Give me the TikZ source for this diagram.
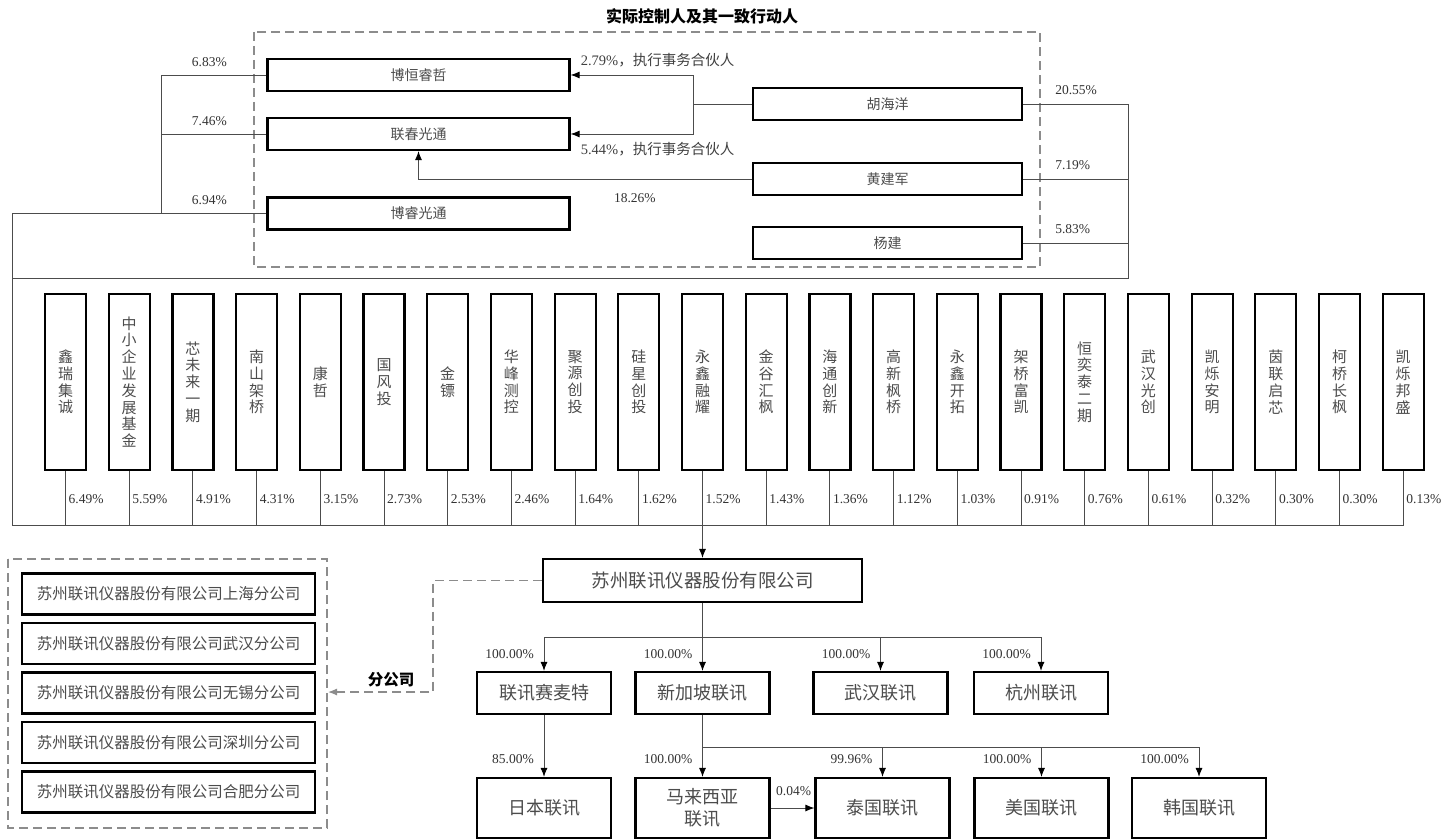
\documentclass[tikz,border=0pt]{standalone}
\usepackage{fontspec}
\setmainfont{Liberation Serif}
\newfontfamily\cjk{Noto Sans CJK SC}
\usetikzlibrary{arrows.meta,positioning}
\makeatletter
\newcommand\vchars[1]{\@tfor\vc@ch:=#1\do{\vc@ch\par}}
\makeatother

\begin{document}
\begin{tikzpicture}[x=1pt,y=-1pt,>={Latex[length=9pt,width=7pt,color=black]},
    every node/.style={inner sep=0pt},
    frame/.style={draw,line width=2.2pt,fill=white,text=black!70},
    ctrl/.style={frame,minimum width=302pt,minimum height=32pt,font=\cjk\fontsize{14}{16}\selectfont},
    person/.style={ctrl,minimum width=269pt},
    holder/.style={frame,minimum width=41pt,minimum height=176pt,text width=16pt,align=center,font=\cjk\fontsize{15}{16.8}\selectfont},
    sub/.style={frame,minimum width=134pt,minimum height=42pt,align=center,font=\cjk\fontsize{18}{22}\selectfont},
    branch/.style={frame,minimum width=293pt,minimum height=41pt,font=\cjk\fontsize{15.5}{18}\selectfont},
    link/.style={draw=black!70,line width=0.9pt},
    grp/.style={draw=black!45,line width=1.2pt,dash pattern=on 9pt off 5pt},
    pct/.style={font=\fontsize{13.5}{15}\selectfont,text=black!80},
    note/.style={font=\fontsize{14.5}{17}\selectfont,text=black!75}]
    \useasboundingbox (0,0) rectangle (1448,840);

    % actual controller group
    \node[font=\cjk\bfseries\fontsize{16}{18}\selectfont] (title) at (702,16) {实际控制人及其一致行动人};
    \draw[grp] (254,32) rectangle (1040,267);
    \node[ctrl] (hhrz) at (418.5,75) {博恒睿哲};
    \node[ctrl] (lcgt) at (418.5,134) {联春光通};
    \node[ctrl] (brgt) at (418.5,213.5) {博睿光通};
    \node[person] (hhy) at (887.5,104) {胡海洋};
    \node[person] (hjj) at (887.5,179) {黄建军};
    \node[person] (yj) at (887.5,243) {杨建};

    \coordinate (pj) at (693,104);
    \draw[link] (hhy.west) -- (pj);
    \draw[link,->] (pj) |- (hhrz.east);
    \draw[link,->] (pj) |- (lcgt.east);
    \draw[link,->] (hjj.west) -| (lcgt.south);
    \path (hhrz.east) ++(10,-15) node[note,anchor=west] {2.79\%{\cjk，执行事务合伙人}};
    \path (lcgt.east) ++(10,15) node[note,anchor=west] {5.44\%{\cjk，执行事务合伙人}};
    \path (hjj.west) ++(-117,19) node[pct] {18.26\%};

    \coordinate (rb) at (1128,278);
    \coordinate (lb) at (12,278);
    \draw[link] (hhy.east) -| (rb) -- (lb);
    \draw[link] (hjj.east) -- (hjj.east -| rb);
    \draw[link] (yj.east) -- (yj.east -| rb);
    \path (hhy.east) ++(32,-14) node[pct,anchor=west] {20.55\%};
    \path (hjj.east) ++(32,-14) node[pct,anchor=west] {7.19\%};
    \path (yj.east) ++(32,-14) node[pct,anchor=west] {5.83\%};

    \coordinate (lj) at (161,213.5);
    \coordinate (bl) at (12,525);
    \coordinate (br) at (1403.5,525);
    \draw[link] (hhrz.west) -| (lj);
    \draw[link] (lcgt.west) -- (lcgt.west -| lj);
    \draw[link] (brgt.west) -| (bl) -- (br);
    \path (hhrz.west) ++(-57,-13) node[pct] {6.83\%};
    \path (lcgt.west) ++(-57,-13) node[pct] {7.46\%};
    \path (brgt.west) ++(-57,-13) node[pct] {6.94\%};

    % other shareholders
    \foreach \nm/\pc [count=\i from 0] in {鑫瑞集诚/6.49,中小企业发展基金/5.59,芯未来一期/4.91,南山架桥/4.31,康哲/3.15,国风投/2.73,金镖/2.53,华峰测控/2.46,聚源创投/1.64,硅星创投/1.62,永鑫融耀/1.52,金谷汇枫/1.43,海通创新/1.36,高新枫桥/1.12,永鑫开拓/1.03,架桥富凯/0.91,恒奕泰二期/0.76,武汉光创/0.61,凯烁安明/0.32,茵联启芯/0.30,柯桥长枫/0.30,凯烁邦盛/0.13} {
        \node[holder] (sh\i) at (65.5+63.7*\i,382) {\expandafter\vchars\expandafter{\nm}};
        \draw[link] (sh\i.south) -- ++(0,54);
        \path (sh\i.south) ++(3,28) node[pct,anchor=west] {\pc\%};
    }

    % company
    \node[sub,minimum width=319pt,minimum height=43pt,font=\cjk\fontsize{18.5}{22}\selectfont] (corp) at (702.5,580.5) {苏州联讯仪器股份有限公司};
    \draw[link,->] (sh10.south) -- (corp.north);

    % branches
    \draw[grp] (8,559) rectangle (327,828);
    \foreach \city [count=\k] in {上海,武汉,无锡,深圳,合肥}
        \node[branch] (fgs\k) at (168.5,544.5+49.5*\k) {苏州联讯仪器股份有限公司\city 分公司};
    \coordinate (fk) at (328,692);
    \draw[grp,-{Latex[length=9pt,width=7pt,color=black!45]}] (corp.west) -- ++(-109,0) |- (fk);
    \node[font=\cjk\bfseries\fontsize{15.5}{18}\selectfont] (fgslbl) at (391,680) {分公司};

    % subsidiaries
    \node[sub] (lxsmt) at (544,693) {联讯赛麦特};
    \node[sub] (xjplx) at (702.5,693) {新加坡联讯};
    \node[sub] (whlx) at (880.5,693) {武汉联讯};
    \node[sub] (hzlx) at (1041,693) {杭州联讯};
    \coordinate (bus1) at (702.5,637);
    \draw[link,->] (corp.south) -- (xjplx.north);
    \draw[link,->] (bus1) -| (lxsmt.north);
    \draw[link,->] (bus1) -| (whlx.north);
    \draw[link,->] (bus1) -| (hzlx.north);
    \foreach \n in {lxsmt,xjplx,whlx,hzlx}
        \path (\n.north) ++(-10,-17) node[pct,anchor=east] {100.00\%};

    \node[sub,minimum height=60pt] (rblx) at (544,808) {日本联讯};
    \node[sub,minimum height=60pt] (mlxylx) at (702.5,808) {马来西亚\\联讯};
    \node[sub,minimum height=60pt] (tglx) at (882.5,808) {泰国联讯};
    \node[sub,minimum height=60pt] (mglx) at (1041.5,808) {美国联讯};
    \node[sub,minimum height=60pt] (hglx) at (1199,808) {韩国联讯};
    \coordinate (bus2) at (702.5,747);
    \draw[link,->] (lxsmt.south) -- (rblx.north);
    \draw[link,->] (xjplx.south) -- (mlxylx.north);
    \draw[link,->] (bus2) -| (tglx.north);
    \draw[link,->] (bus2) -| (mglx.north);
    \draw[link,->] (bus2) -| (hglx.north);
    \draw[link,->] (mlxylx.east) -- (tglx.west);
    \path (rblx.north) ++(-10,-18) node[pct,anchor=east] {85.00\%};
    \path (mlxylx.north) ++(-10,-18) node[pct,anchor=east] {100.00\%};
    \path (tglx.north) ++(-10,-18) node[pct,anchor=east] {99.96\%};
    \path (mglx.north) ++(-10,-18) node[pct,anchor=east] {100.00\%};
    \path (hglx.north) ++(-10,-18) node[pct,anchor=east] {100.00\%};
    \path (mlxylx.east) ++(23,-17) node[pct] {0.04\%};
\end{tikzpicture}
\end{document}
